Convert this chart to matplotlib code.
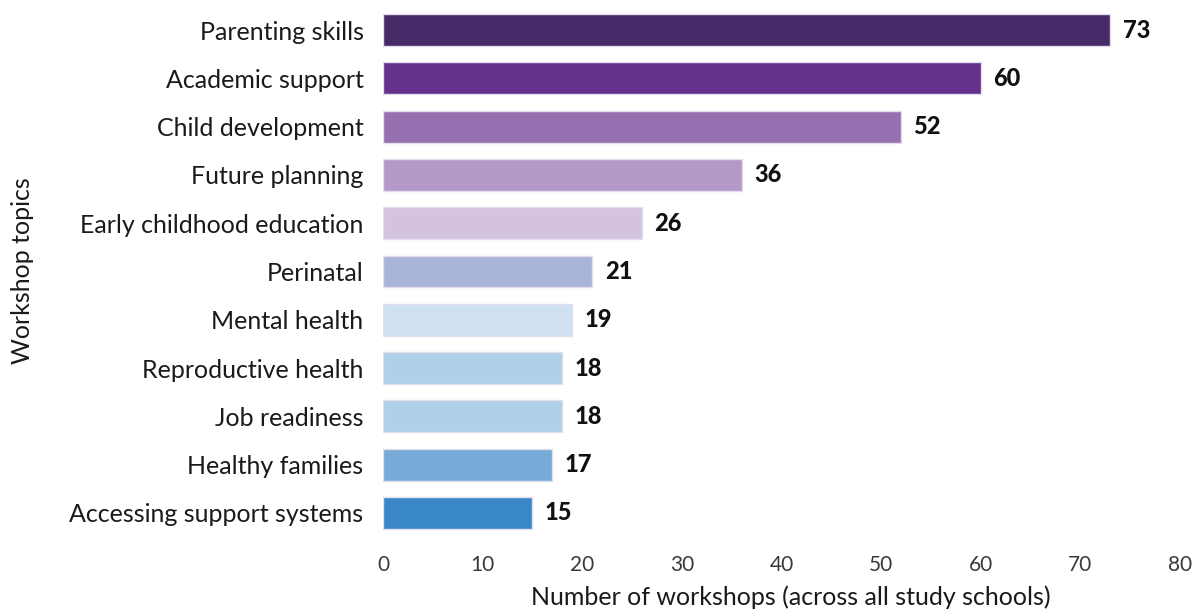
import matplotlib
matplotlib.use("Agg")
import matplotlib.pyplot as plt

topics = [
    "Parenting skills",
    "Academic support",
    "Child development",
    "Future planning",
    "Early childhood education",
    "Perinatal",
    "Mental health",
    "Reproductive health",
    "Job readiness",
    "Healthy families",
    "Accessing support systems",
]
workshops = [73, 60, 52, 36, 26, 21, 19, 18, 18, 17, 15]
bar_colors = [
    "#472A68", "#66308D", "#9670B1", "#B398C8", "#D3C3E0", "#A8B5D8",
    "#CFE1F0", "#B0D0E9", "#B0D0E9", "#76ABD8", "#3A87C7",
]
x_ticks = [0, 10, 20, 30, 40, 50, 60, 70, 80]

plt.rcParams["font.family"] = ["Lato", "DejaVu Sans"]

fig = plt.figure(figsize=(11.96, 6.09), dpi=100)
ax = fig.add_axes([383 / 1196, 1 - 537 / 609, (1180 - 383) / 1196, (537 - 6) / 609])

ypos = list(range(len(topics)))
ax.barh(ypos, workshops, height=0.66, color=bar_colors,
        edgecolor="#E4DDEE", linewidth=1.0)

for y, v in zip(ypos, workshops):
    ax.annotate(str(v), xy=(v, y), xytext=(9, 0), textcoords="offset points",
                va="center", ha="left", fontsize=17, fontweight="black",
                color="#111111")

ax.set_xlim(0, 80)
ax.set_ylim(len(topics) - 0.5, -0.5)
ax.set_yticks(ypos)
ax.set_yticklabels(topics, fontsize=18, color="#1a1a1a")
ax.set_xticks(x_ticks)
ax.set_xticklabels([str(t) for t in x_ticks], fontsize=15, color="#3a3a3a")
ax.tick_params(axis="both", length=0)
ax.tick_params(axis="y", pad=14)
ax.tick_params(axis="x", pad=13)
for s in ax.spines.values():
    s.set_visible(False)

fig.text(791 / 1196, 1 - 597 / 609, "Number of workshops (across all study schools)",
         fontsize=18, color="#1a1a1a", ha="center", va="center")
fig.text(22 / 1196, 1 - 271 / 609, "Workshop topics", rotation=90,
         fontsize=18, color="#1a1a1a", ha="center", va="center")

fig.savefig("out.png", dpi=100)
